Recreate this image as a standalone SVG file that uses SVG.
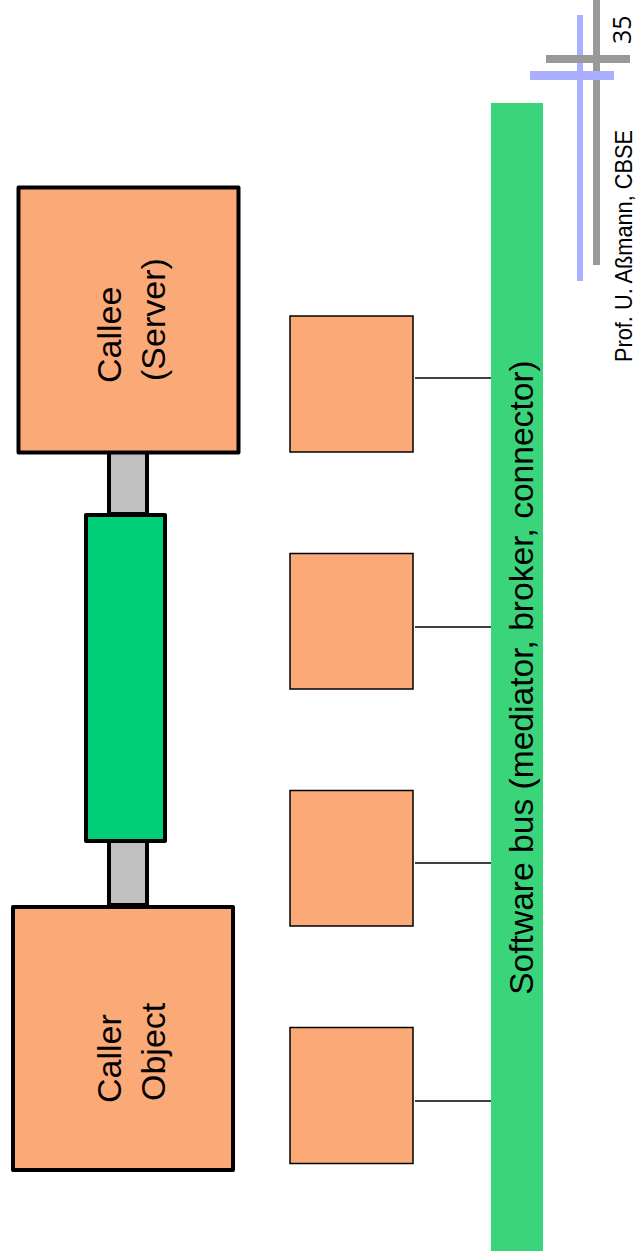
<svg xmlns="http://www.w3.org/2000/svg" width="636" height="1260" viewBox="0 0 636 1260">
<style>
.big{fill:#FCA978;stroke:#000;stroke-width:4;stroke-linejoin:round}
.small{fill:#FCA978;stroke:#000;stroke-width:1.5}
.stub{fill:#C0C0C0;stroke:#000;stroke-width:4;stroke-linejoin:round}
.lbl{font-family:"Liberation Sans",Arial,sans-serif;font-size:34px;fill:#000}
.link{stroke:#000;stroke-width:1.5;fill:none}
</style>
<rect width="636" height="1260" fill="#fff"/>
<g id="logo">
<rect x="593" y="0" width="7" height="265" fill="#999"/>
<rect x="577" y="15" width="6" height="266" fill="#AAAFFF"/>
<rect x="546" y="55" width="84" height="8" fill="#999"/>
<rect x="530" y="71" width="84" height="9" fill="#AAAFFF"/>
</g>
<g id="footer">
<text transform="translate(632,362) rotate(-90)" font-family="'Liberation Sans',Arial,sans-serif" font-size="24" textLength="232" lengthAdjust="spacingAndGlyphs">Prof. U. Aßmann, CBSE</text>
<text transform="translate(631,44) rotate(-90)" font-family="'Open Sans','Liberation Sans',sans-serif" font-size="25">35</text>
</g>
<g id="connectors">
<rect id="stub-top" class="stub" x="109" y="452" width="38" height="62"/>
<rect id="stub-bottom" class="stub" x="109" y="841" width="38" height="64"/>
<line class="link" x1="415" y1="378" x2="491" y2="378"/>
<line class="link" x1="415" y1="627" x2="491" y2="627"/>
<line class="link" x1="415" y1="863" x2="491" y2="863"/>
<line class="link" x1="415" y1="1101" x2="491" y2="1101"/>
</g>
<g id="callee">
<rect class="big" x="18.5" y="187.5" width="220" height="265"/>
<text class="lbl" transform="translate(121,383) rotate(-90)">Callee</text>
<text class="lbl" transform="translate(165,381) rotate(-90)">(Server)</text>
</g>
<g id="middle">
<rect x="86" y="515" width="79" height="326" fill="#00CF78" stroke="#000" stroke-width="4" stroke-linejoin="round"/>
</g>
<g id="caller">
<rect class="big" x="13" y="907" width="220" height="263"/>
<text class="lbl" transform="translate(121,1103) rotate(-90)">Caller</text>
<text class="lbl" transform="translate(165,1101) rotate(-90)">Object</text>
</g>
<g id="comp1"><rect class="small" x="290" y="316" width="123" height="136"/></g>
<g id="comp2"><rect class="small" x="290" y="553.5" width="123" height="135.5"/></g>
<g id="comp3"><rect class="small" x="290" y="790.5" width="123" height="135.5"/></g>
<g id="comp4"><rect class="small" x="290" y="1027.5" width="123" height="136"/></g>
<g id="bus">
<rect x="491" y="103" width="52" height="1148" fill="#3AD47A"/>
<text transform="translate(533,677.5) rotate(-90)" text-anchor="middle" font-family="'Liberation Sans',Arial,sans-serif" font-size="33.6">Software bus (mediator, broker, connector)</text>
</g>
</svg>
